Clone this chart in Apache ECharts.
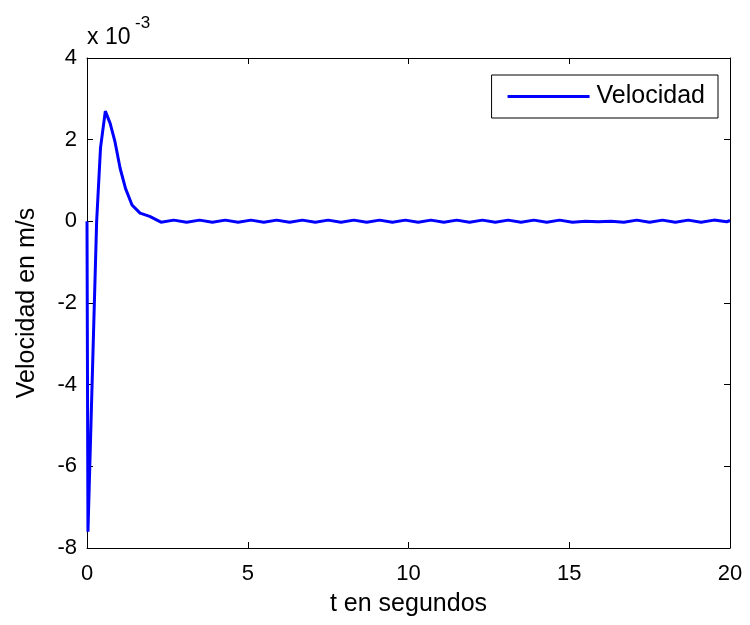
<!DOCTYPE html>
<html>
<head>
<meta charset="utf-8">
<script src="https://cdn.jsdelivr.net/npm/echarts@6/dist/echarts.min.js"></script>
<style>
html,body{margin:0;padding:0;background:#fff;}
#chart{width:750px;height:625px;}
</style>
</head>
<body>
<div id="chart"></div>
<script>
// Time (s)
var tValues = [0, 0.03, 0.3, 0.42, 0.57, 0.72, 0.87, 1.03, 1.2, 1.4, 1.65, 1.95,
  2.3, 2.7, 3.1, 3.5, 3.9, 4.3, 4.7, 5.1, 5.5, 5.9, 6.3, 6.7, 7.1, 7.5, 7.9, 8.3, 8.7,
  9.1, 9.5, 9.9, 10.3, 10.7, 11.1, 11.5, 11.9, 12.3, 12.7, 13.1, 13.5, 13.9, 14.3,
  14.7, 15.1, 15.5, 15.9, 16.3, 16.7, 17.1, 17.5, 17.9, 18.3, 18.7, 19.1, 19.5, 19.9, 20];
// Velocity (x 10^-3 m/s)
var velValues = [0, -7.6, 0.0, 1.8, 2.7, 2.4, 1.95, 1.3, 0.8, 0.4, 0.2, 0.12,
  -0.02, 0.03, -0.02, 0.03, -0.02, 0.03, -0.02, 0.03, -0.02, 0.03, -0.02, 0.03, -0.02, 0.03, -0.02, 0.03, -0.02,
  0.03, -0.02, 0.03, -0.02, 0.03, -0.02, 0.03, -0.02, 0.03, -0.02, 0.03, -0.02, 0.03, -0.02,
  0.03, -0.02, 0.0, -0.01, 0.0, -0.02, 0.03, -0.02, 0.03, -0.02, 0.03, -0.02, 0.03, -0.01, 0.02];
var seriesName = 'Velocidad';
var xTicks = {min: 0, max: 20, interval: 5};
var yTicks = {min: -8, max: 4, interval: 2};

var data = tValues.map(function (t, i) { return [t, velValues[i]]; });
var FONT = 'Liberation Sans, Arial, sans-serif';
var chart = echarts.init(document.getElementById('chart'), null, {renderer: 'canvas'});

var tick = {show: true, inside: true, length: 6, lineStyle: {color: '#000', width: 1}};
var line = {show: true, onZero: false, lineStyle: {color: '#000', width: 1}};

chart.setOption({
  animation: false,
  backgroundColor: '#fff',
  grid: {left: 87, right: 20, top: 58, bottom: 77, containLabel: false},
  legend: {
    data: [seriesName],
    right: 32, top: 75,
    orient: 'vertical',
    backgroundColor: '#fff',
    borderColor: '#000', borderWidth: 1,
    padding: [9, 13, 9, 16],
    icon: 'rect', itemWidth: 82, itemHeight: 3,
    textStyle: {fontFamily: FONT, fontSize: 25, color: '#000', padding: [0, 0, 0, 2]}
  },
  xAxis: [{
    type: 'value', min: xTicks.min, max: xTicks.max, interval: xTicks.interval,
    position: 'bottom',
    axisLine: line, axisTick: tick, splitLine: {show: false},
    axisLabel: {fontFamily: FONT, fontSize: 22, color: '#000', margin: 15},
    name: 't en segundos', nameLocation: 'middle', nameGap: 44,
    nameTextStyle: {fontFamily: FONT, fontSize: 25, color: '#000'}
  }, {
    type: 'value', min: xTicks.min, max: xTicks.max, interval: xTicks.interval,
    position: 'top',
    axisLine: line, axisTick: tick, splitLine: {show: false}, axisLabel: {show: false}
  }],
  yAxis: [{
    type: 'value', min: yTicks.min, max: yTicks.max, interval: yTicks.interval,
    position: 'left',
    axisLine: line, axisTick: tick, splitLine: {show: false},
    axisLabel: {fontFamily: FONT, fontSize: 22, color: '#000', margin: 10},
    name: 'Velocidad en m/s', nameLocation: 'middle', nameGap: 47, nameRotate: 90,
    nameTextStyle: {fontFamily: FONT, fontSize: 25, color: '#000'}
  }, {
    type: 'value', min: yTicks.min, max: yTicks.max, interval: yTicks.interval,
    position: 'right',
    axisLine: line, axisTick: tick, splitLine: {show: false}, axisLabel: {show: false}
  }],
  graphic: [
    {type: 'text', left: 87, top: 26, style: {text: 'x 10', font: '23px ' + FONT, fill: '#000'}},
    {type: 'text', left: 135, top: 15, style: {text: '-3', font: '17px ' + FONT, fill: '#000'}}
  ],
  series: [{
    name: seriesName,
    type: 'line',
    data: data,
    showSymbol: false,
    symbol: 'none',
    smooth: false,
    lineStyle: {color: '#0000ff', width: 3},
    itemStyle: {color: '#0000ff'}
  }]
});
</script>
</body>
</html>
